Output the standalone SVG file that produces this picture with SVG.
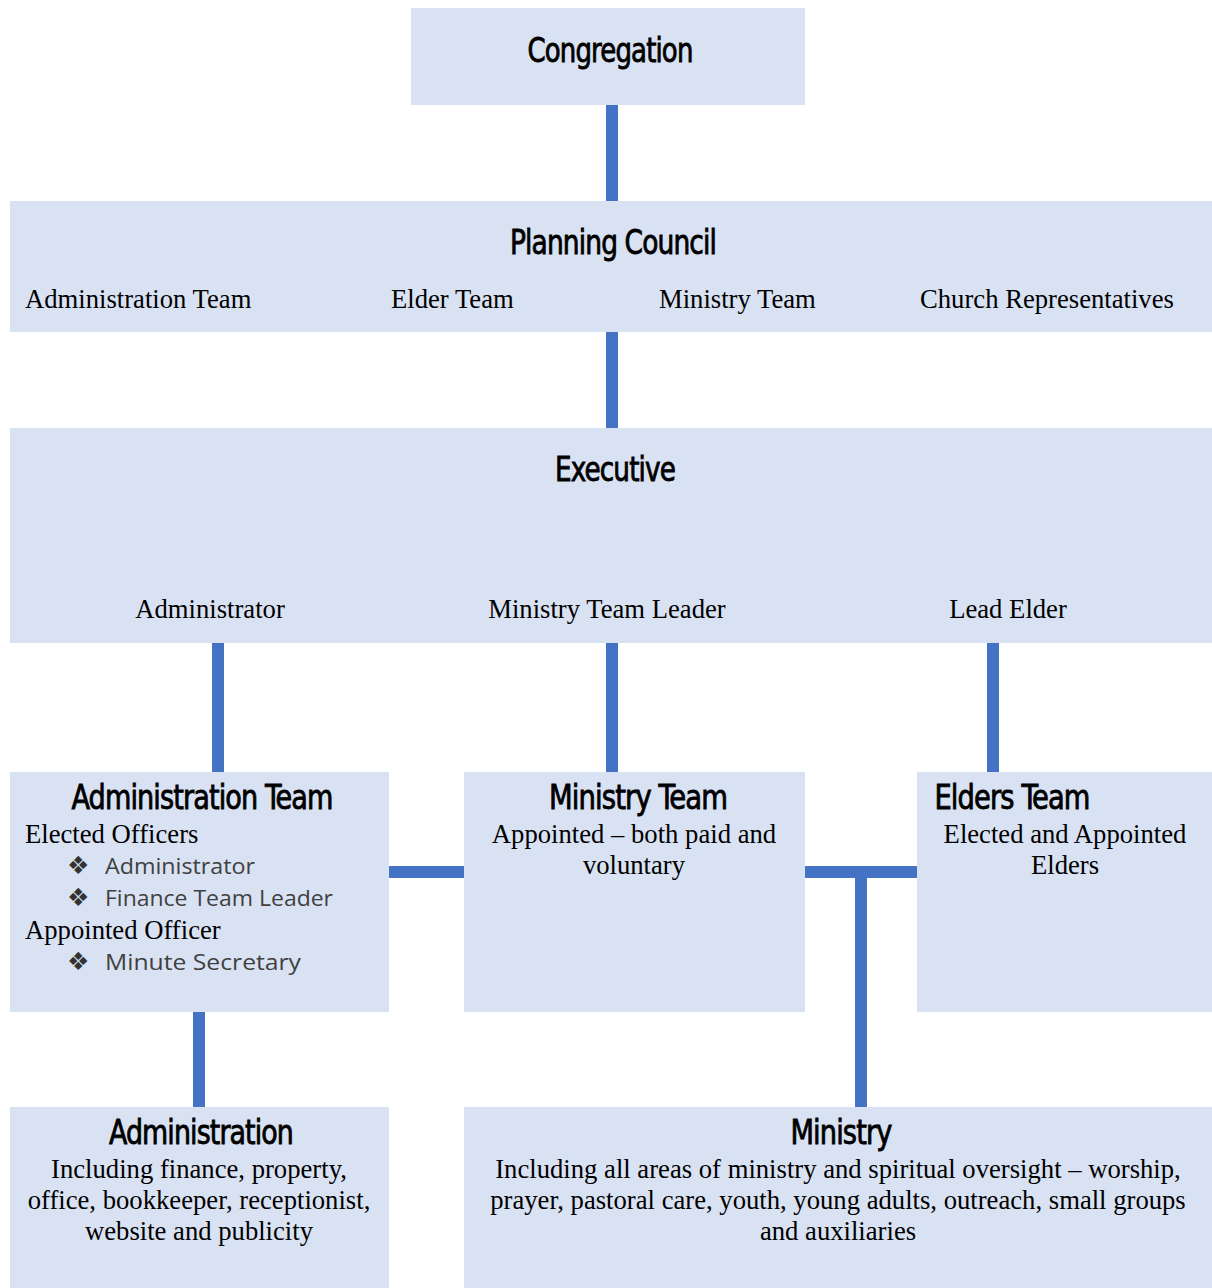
<svg xmlns="http://www.w3.org/2000/svg" width="1212" height="1288" viewBox="0 0 1212 1288">
<style>
.box{fill:#D9E2F3}
.con{fill:#4472C4}
.t{font-family:"DejaVu Sans Condensed","Roboto","DejaVu Sans",sans-serif;font-size:34px;fill:#000;stroke:#000;stroke-width:0.8px;text-anchor:middle;letter-spacing:-1px}
.s{font-family:"Liberation Serif","Times New Roman",serif;font-size:26.67px;fill:#000}
.m{text-anchor:middle}
.b{font-family:"Open Sans","Liberation Sans",sans-serif;font-size:22px;fill:#404040}
.bu{font-family:"DejaVu Sans",sans-serif;font-size:25px;fill:#333}
</style>
<rect width="1212" height="1288" fill="#fff"/>
<g id="connectors">
<rect class="con" x="606" y="104" width="12" height="98"/>
<rect class="con" x="606" y="331" width="12" height="98"/>
<rect class="con" x="212" y="642" width="12" height="131"/>
<rect class="con" x="606" y="642" width="12" height="131"/>
<rect class="con" x="987" y="642" width="12" height="131"/>
<rect class="con" x="388" y="866" width="77" height="12"/>
<rect class="con" x="804" y="866" width="114" height="12"/>
<rect class="con" x="855" y="866" width="12" height="242"/>
<rect class="con" x="193" y="1011" width="12" height="97"/>
</g>
<g id="congregation">
<rect class="box" x="411" y="8" width="394" height="97"/>
<text class="t" x="610" y="62" textLength="165" lengthAdjust="spacingAndGlyphs">Congregation</text>
</g>
<g id="planning-council">
<rect class="box" x="10" y="201" width="1202" height="131"/>
<text class="t" x="613" y="254" textLength="206" lengthAdjust="spacingAndGlyphs">Planning Council</text>
<text class="s" x="25" y="308">Administration Team</text>
<text class="s" x="391" y="308">Elder Team</text>
<text class="s" x="659" y="308">Ministry Team</text>
<text class="s" x="920" y="308">Church Representatives</text>
</g>
<g id="executive">
<rect class="box" x="10" y="428" width="1202" height="215"/>
<text class="t" x="615" y="481" textLength="120" lengthAdjust="spacingAndGlyphs">Executive</text>
<text class="s m" x="210" y="618">Administrator</text>
<text class="s m" x="607" y="618">Ministry Team Leader</text>
<text class="s m" x="1008" y="618">Lead Elder</text>
</g>
<g id="administration-team">
<rect class="box" x="10" y="772" width="379" height="240"/>
<text class="t" x="202" y="809" textLength="261" lengthAdjust="spacingAndGlyphs">Administration Team</text>
<text class="s" x="25" y="843">Elected Officers</text>
<text class="bu" x="67" y="874">❖</text>
<text class="b" x="105" y="874" textLength="150" lengthAdjust="spacingAndGlyphs">Administrator</text>
<text class="bu" x="67" y="906">❖</text>
<text class="b" x="105" y="906" textLength="228" lengthAdjust="spacingAndGlyphs">Finance Team Leader</text>
<text class="s" x="25" y="939">Appointed Officer</text>
<text class="bu" x="67" y="970">❖</text>
<text class="b" x="105" y="970" textLength="196" lengthAdjust="spacingAndGlyphs">Minute Secretary</text>
</g>
<g id="ministry-team">
<rect class="box" x="464" y="772" width="341" height="240"/>
<text class="t" x="638" y="809" textLength="178" lengthAdjust="spacingAndGlyphs">Ministry Team</text>
<text class="s m" x="634" y="843">Appointed – both paid and</text>
<text class="s m" x="634" y="874">voluntary</text>
</g>
<g id="elders-team">
<rect class="box" x="917" y="772" width="295" height="240"/>
<text class="t" x="1012" y="809" textLength="155" lengthAdjust="spacingAndGlyphs">Elders Team</text>
<text class="s m" x="1065" y="843">Elected and Appointed</text>
<text class="s m" x="1065" y="874">Elders</text>
</g>
<g id="administration">
<rect class="box" x="10" y="1107" width="379" height="181"/>
<text class="t" x="201" y="1144" textLength="184" lengthAdjust="spacingAndGlyphs">Administration</text>
<text class="s m" x="199" y="1178">Including finance, property,</text>
<text class="s m" x="199" y="1209">office, bookkeeper, receptionist,</text>
<text class="s m" x="199" y="1240">website and publicity</text>
</g>
<g id="ministry">
<rect class="box" x="464" y="1107" width="748" height="181"/>
<text class="t" x="841" y="1144" textLength="101" lengthAdjust="spacingAndGlyphs">Ministry</text>
<text class="s m" x="838" y="1178">Including all areas of ministry and spiritual oversight – worship,</text>
<text class="s m" x="838" y="1209">prayer, pastoral care, youth, young adults, outreach, small groups</text>
<text class="s m" x="838" y="1240">and auxiliaries</text>
</g>
</svg>
